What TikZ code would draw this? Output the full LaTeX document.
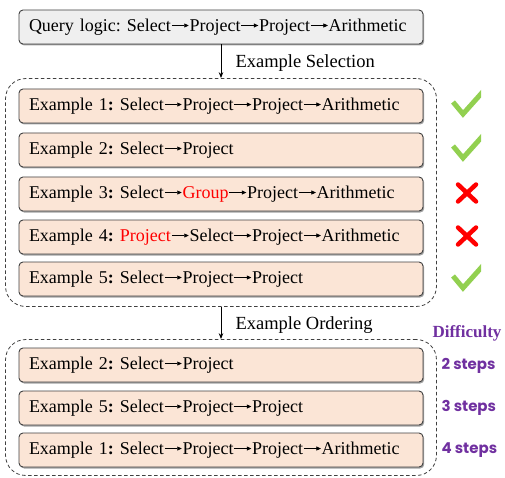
\documentclass[tikz,border=0pt]{standalone}
\usepackage{fontspec}
\setmainfont{Liberation Serif}
\newfontfamily\stepfont{Poppins}
\usetikzlibrary{shadows,fit,arrows.meta}
\definecolor{peach}{HTML}{FBE5D6}
\definecolor{querygray}{HTML}{EFEFEF}
\definecolor{edgegray}{HTML}{404040}
\definecolor{okgreen}{HTML}{92D050}
\definecolor{badred}{HTML}{FF0000}
\definecolor{diffpurple}{HTML}{7030A0}
\frenchspacing
\tikzset{
  card/.style={draw=edgegray, line width=0.9pt, rounded corners=4pt,
    minimum height=34pt, text width=384pt, inner xsep=10pt, align=left,
    font=\fontsize{18}{21}\selectfont,
    drop shadow={shadow xshift=1.2pt, shadow yshift=-1.5pt, fill=black!45, opacity=0.8}},
  examplecard/.style={card, fill=peach},
  querycard/.style={card, fill=querygray},
  group/.style={draw=black!75, dashed, dash pattern=on 3.5pt off 2.5pt, line width=0.8pt,
    rounded corners=20pt},
  flow/.style={-{Stealth[length=6pt,width=4.5pt]}, line width=1pt},
  steplabel/.style={font=\fontsize{18.5}{21}\selectfont, anchor=west},
  check/.style={draw=okgreen, line width=5pt, line cap=butt, line join=miter},
  cross/.style={draw=badred, line width=4.5pt, line cap=round},
  difflabel/.style={text=diffpurple, font=\stepfont\bfseries\fontsize{15}{18}\selectfont, anchor=west},
}
% the small arrow used between operators
\newcommand{\ra}{\kern0.5pt\begin{pgfpicture}%
  \pgfsetbaseline{0pt}%
  \pgfsetlinewidth{0.6pt}%
  \pgfsetarrowsend{Triangle[length=4.5pt,width=4pt]}%
  \pgfpathmoveto{\pgfpoint{0pt}{5.8pt}}%
  \pgfpathlineto{\pgfpoint{17pt}{5.8pt}}%
  \pgfusepath{stroke}%
\end{pgfpicture}\kern0.5pt}
\newcommand{\colonb}{\textbf{:}}
\begin{document}
\begin{tikzpicture}[x=1pt,y=-1pt]
\useasboundingbox (0,0) rectangle (505,478);

% query
\node[querycard] (q) at (221,27) {Query logic: Select\ra Project\ra Project\ra Arithmetic};

% candidate examples
\node[examplecard] (e1) at (221,106) {Example 1\colonb{} Select\ra Project\ra Project\ra Arithmetic};
\node[examplecard] (e2) at (221,150) {Example 2\colonb{} Select\ra Project};
\node[examplecard] (e3) at (221,194) {Example 3\colonb{} Select\ra\textcolor{badred}{Group}\ra Project\ra Arithmetic};
\node[examplecard] (e4) at (221,237) {Example 4\colonb{} \textcolor{badred}{Project}\ra Select\ra Project\ra Arithmetic};
\node[examplecard] (e5) at (221,279) {Example 5\colonb{} Select\ra Project\ra Project};
\node[group, fit=(e1)(e5), inner xsep=13pt, inner ysep=10pt] (g1) {};

% ordered examples
\node[examplecard] (o1) at (221,365) {Example 2\colonb{} Select\ra Project};
\node[examplecard] (o2) at (221,408) {Example 5\colonb{} Select\ra Project\ra Project};
\node[examplecard] (o3) at (221,450) {Example 1\colonb{} Select\ra Project\ra Project\ra Arithmetic};
\node[group, fit=(o1)(o3), inner xsep=13pt, inner ysep=8pt] (g2) {};

% flow arrows
\draw[flow] (q.south) -- (g1.north);
\draw[flow] (g1.south) -- (g2.north);
\node[steplabel] (l1) at (232,63) {Example Selection};
\node[steplabel] (l2) at (232,325) {Example Ordering};

% verdict marks
\begin{scope}
  \clip (440,70) rectangle (481,300);
  \foreach \y in {106,150,280}
    \draw[check] (453,\y-4) -- (463,\y+8) -- (488,\y-20);
\end{scope}
\foreach \y in {193,236}
  \draw[cross] (458,\y-8.5) -- (476,\y+8.5) (458,\y+8.5) -- (476,\y-8.5);

% difficulty
\node[text=diffpurple, font=\bfseries\fontsize{17}{20}\selectfont] (dh) at (467,333) {Difficulty};
\node[difflabel] (d1) at (438,366) {2 steps};
\node[difflabel] (d2) at (438,408) {3 steps};
\node[difflabel] (d3) at (438,450) {4 steps};
\end{tikzpicture}
\end{document}
